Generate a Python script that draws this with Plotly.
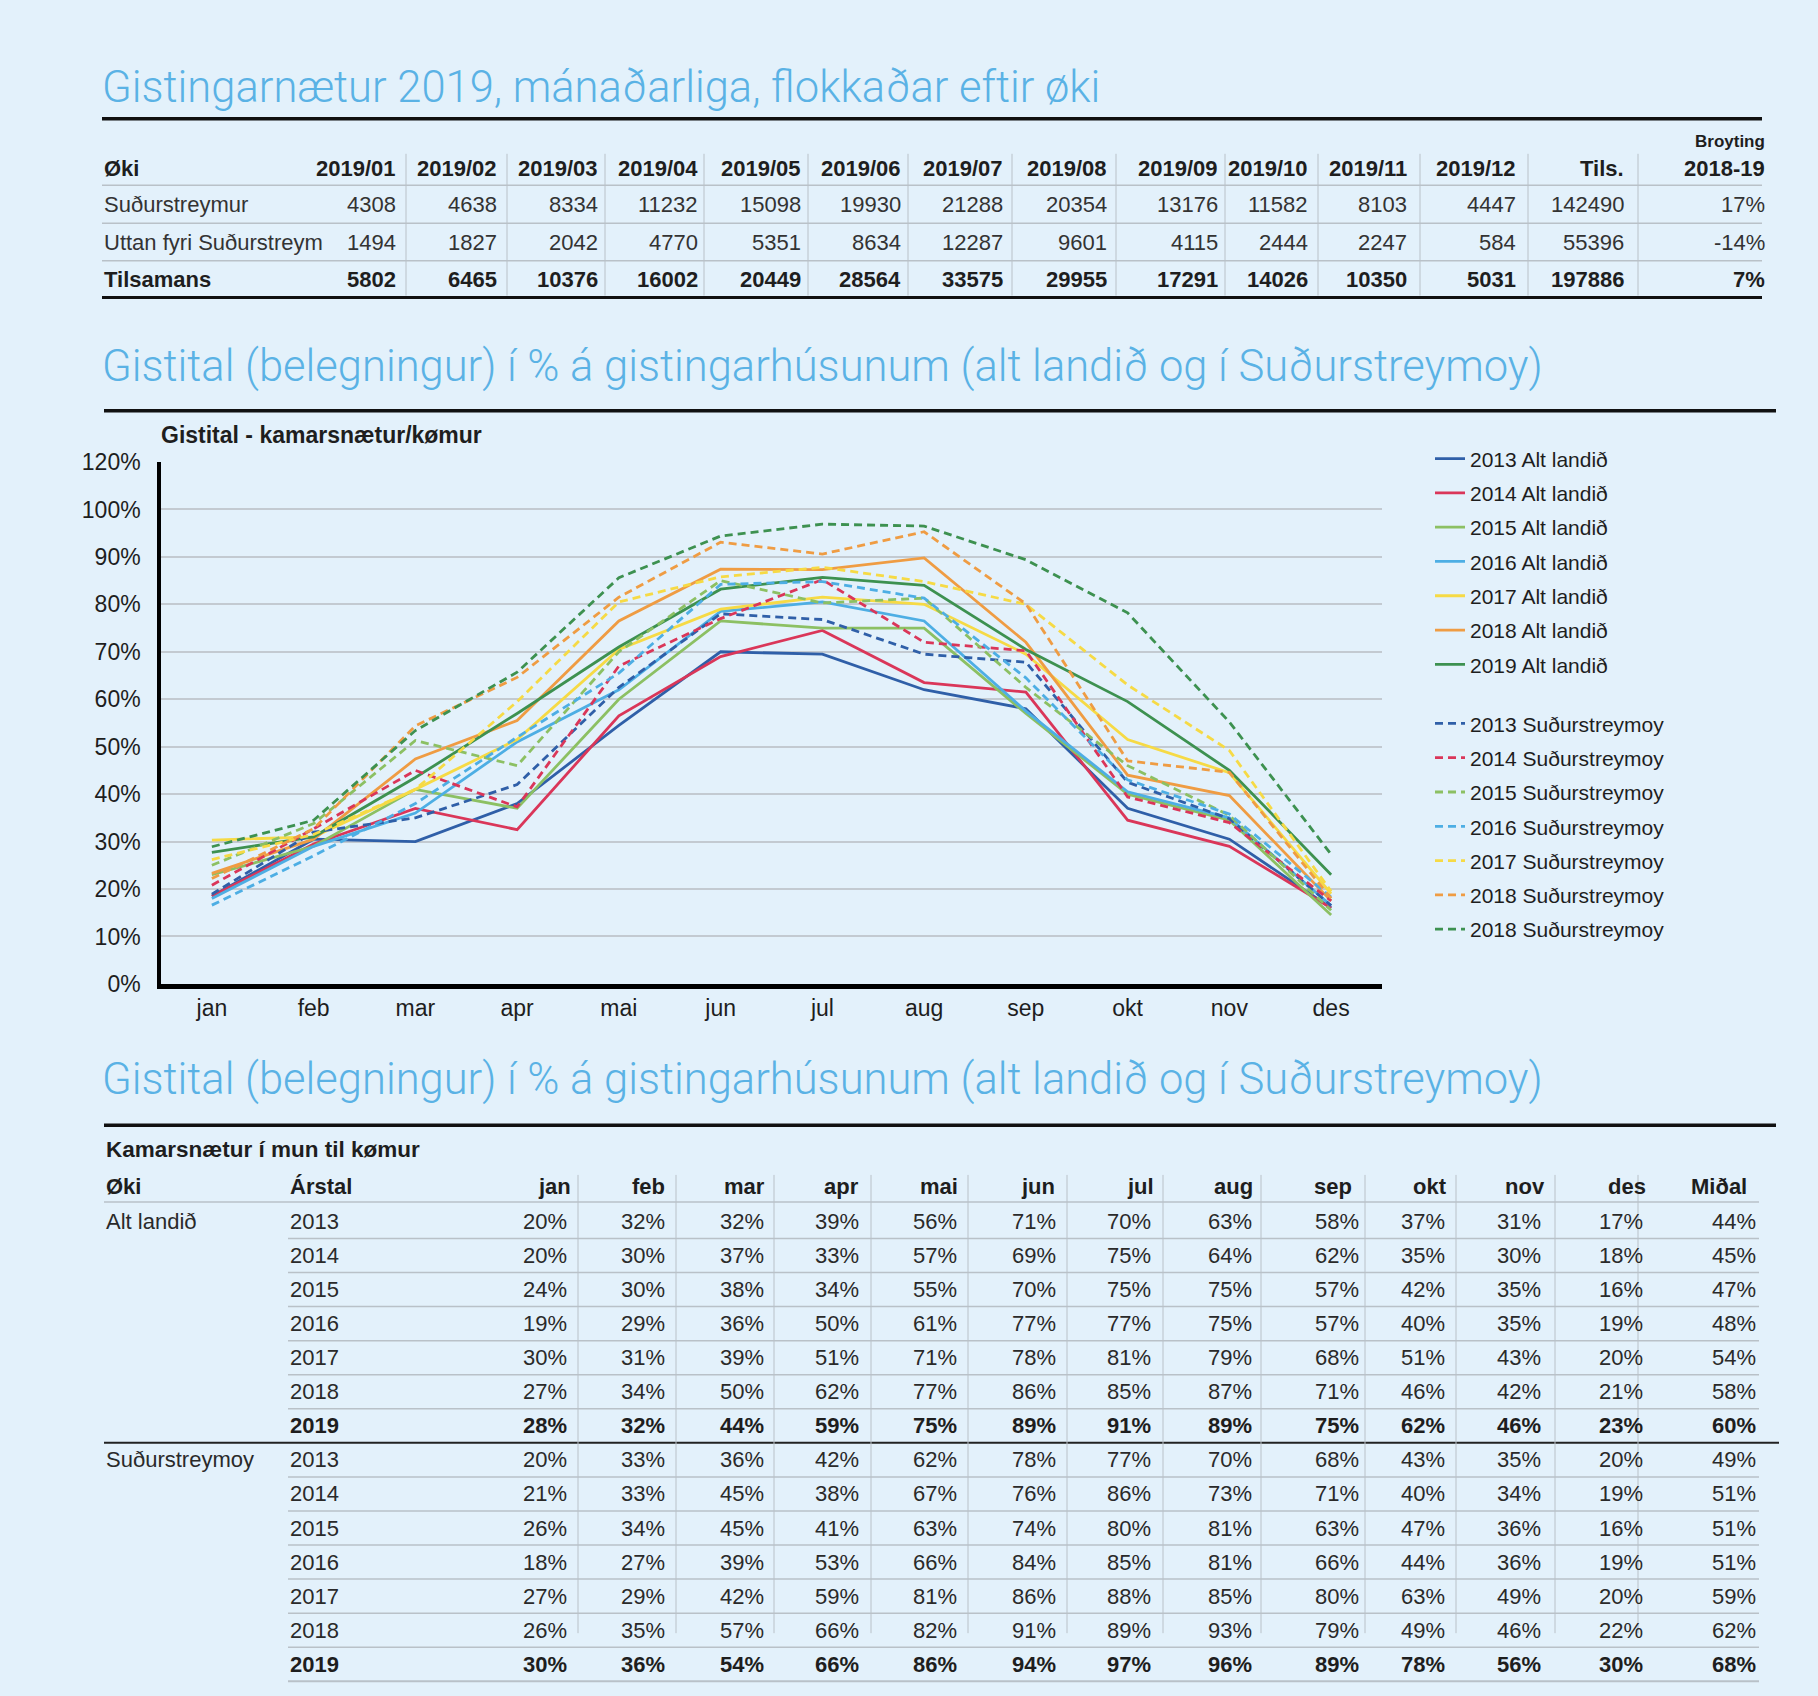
import plotly.graph_objects as go

W, H = 1818, 1696
BG = "#E3F1FB"
TITLE_C = "#5AB2E5"
FONT = "Liberation Sans, Arial, sans-serif"
TFONT = "Roboto, Liberation Sans, sans-serif"
TXT = "#1E1E1E"
GRID = "#C3CAD1"
SEP = "#B9C1C8"

# ---------------- chart data ----------------
months = ["jan", "feb", "mar", "apr", "mai", "jun", "jul", "aug", "sep", "okt", "nov", "des"]
y_tick_vals = [0, 10, 20, 30, 40, 50, 60, 70, 80, 90, 100, 110]
y_tick_labels = ["0%", "10%", "20%", "30%", "40%", "50%", "60%", "70%", "80%", "90%", "100%", "120%"]

alt_names = ["2013 Alt landið", "2014 Alt landið", "2015 Alt landið", "2016 Alt landið",
             "2017 Alt landið", "2018 Alt landið", "2019 Alt landið"]
alt_2013 = [18.5, 30.5, 30, 38, 54.5, 70, 69.5, 62, 58, 37, 30.5, 16]
alt_2014 = [18.5, 29.5, 37, 32.5, 56.5, 69, 74.5, 63.5, 61.5, 34.5, 29, 16]
alt_2015 = [23, 29, 41, 37, 60, 76.5, 75, 75, 57, 40, 34.5, 14.5]
alt_2016 = [18, 29, 36, 51, 62, 78.5, 80.5, 76.5, 57.5, 40.5, 35, 16.5]
alt_2017 = [30.3, 31, 41, 51.5, 70.5, 79, 81.5, 80, 69.5, 51.5, 44.5, 19]
alt_2018 = [23.3, 30.5, 47.4, 55.5, 76.5, 87.4, 87.3, 89.8, 72, 44, 39.7, 17.5]
alt_2019 = [27.7, 31, 43.5, 57, 71, 83.2, 85.7, 84, 70.5, 59.5, 45, 23]

sud_names = ["2013 Suðurstreymoy", "2014 Suðurstreymoy", "2015 Suðurstreymoy", "2016 Suðurstreymoy",
             "2017 Suðurstreymoy", "2018 Suðurstreymoy", "2018 Suðurstreymoy"]
sud_2013 = [18.9, 32, 35, 42, 62.5, 78, 76.8, 69.5, 67.8, 42.5, 34.8, 16.5]
sud_2014 = [20.8, 32.7, 45, 37.3, 67, 77, 85.2, 72, 70.2, 39.4, 34, 17.5]
sud_2015 = [25, 33.8, 51.3, 46, 70, 85, 80.3, 81.3, 62.5, 46, 35.5, 15.5]
sud_2016 = [16.6, 27, 38, 52, 65.5, 84.2, 84.8, 81.3, 64.5, 43, 35.8, 18.3]
sud_2017 = [26.2, 31.5, 41, 59.5, 80.5, 85.8, 87.8, 84.8, 80, 63, 49.2, 19.5]
sud_2018 = [22.2, 32.7, 54.4, 64.6, 81.5, 93.1, 90.6, 95.3, 80.1, 47, 44.6, 18]
sud_2019 = [28.9, 34.5, 53.4, 65.7, 85.6, 94.4, 96.9, 96.5, 89.4, 78.2, 55.2, 27.3]

series_colors = ["#2F5FA8", "#DA3659", "#8CC063", "#4DAEE4", "#F6DA45", "#EF9C43", "#3D9150"]

# ---------------- top table data ----------------
top_cols = ["2019/01", "2019/02", "2019/03", "2019/04", "2019/05", "2019/06", "2019/07",
            "2019/08", "2019/09", "2019/10", "2019/11", "2019/12", "Tils.", "2018-19"]
top_rows = ["Suðurstreymur", "Uttan fyri Suðurstreym", "Tilsamans"]
top_sud = [4308, 4638, 8334, 11232, 15098, 19930, 21288, 20354, 13176, 11582, 8103, 4447, 142490]
top_uttan = [1494, 1827, 2042, 4770, 5351, 8634, 12287, 9601, 4115, 2444, 2247, 584, 55396]
top_total = [5802, 6465, 10376, 16002, 20449, 28564, 33575, 29955, 17291, 14026, 10350, 5031, 197886]
top_change = ["17%", "-14%", "7%"]

# ---------------- bottom table data ----------------
bt_cols = ["jan", "feb", "mar", "apr", "mai", "jun", "jul", "aug", "sep", "okt", "nov", "des", "Miðal"]
bt_years = ["2013", "2014", "2015", "2016", "2017", "2018", "2019"]
bt_alt = [
    [20, 32, 32, 39, 56, 71, 70, 63, 58, 37, 31, 17, 44],
    [20, 30, 37, 33, 57, 69, 75, 64, 62, 35, 30, 18, 45],
    [24, 30, 38, 34, 55, 70, 75, 75, 57, 42, 35, 16, 47],
    [19, 29, 36, 50, 61, 77, 77, 75, 57, 40, 35, 19, 48],
    [30, 31, 39, 51, 71, 78, 81, 79, 68, 51, 43, 20, 54],
    [27, 34, 50, 62, 77, 86, 85, 87, 71, 46, 42, 21, 58],
    [28, 32, 44, 59, 75, 89, 91, 89, 75, 62, 46, 23, 60],
]
bt_sud = [
    [20, 33, 36, 42, 62, 78, 77, 70, 68, 43, 35, 20, 49],
    [21, 33, 45, 38, 67, 76, 86, 73, 71, 40, 34, 19, 51],
    [26, 34, 45, 41, 63, 74, 80, 81, 63, 47, 36, 16, 51],
    [18, 27, 39, 53, 66, 84, 85, 81, 66, 44, 36, 19, 51],
    [27, 29, 42, 59, 81, 86, 88, 85, 80, 63, 49, 20, 59],
    [26, 35, 57, 66, 82, 91, 89, 93, 79, 49, 46, 22, 62],
    [30, 36, 54, 66, 86, 94, 97, 96, 89, 78, 56, 30, 68],
]

# ---------------- figure ----------------
fig = go.Figure()
alt_series = [alt_2013, alt_2014, alt_2015, alt_2016, alt_2017, alt_2018, alt_2019]
sud_series = [sud_2013, sud_2014, sud_2015, sud_2016, sud_2017, sud_2018, sud_2019]
for i, (nm, vals) in enumerate(zip(alt_names, alt_series)):
    fig.add_trace(go.Scatter(x=months, y=vals, mode="lines", name=nm,
                             line=dict(color=series_colors[i], width=2.8),
                             legend="legend", legendgroup="a%d" % i))
for i, (nm, vals) in enumerate(zip(sud_names, sud_series)):
    fig.add_trace(go.Scatter(x=months, y=vals, mode="lines", name=nm,
                             line=dict(color=series_colors[i], width=2.8, dash="8px,5px"),
                             legend="legend2", legendgroup="s%d" % i))


def px(x):
    return x / W


def py(y):
    return 1 - y / H


ann = []
shapes = []


def text(x, y, s, size=22, bold=False, anchor="left", color=TXT, family=FONT, weight=None):
    f = dict(family=family, size=size, color=color)
    if weight is not None:
        f["weight"] = weight
    elif bold:
        f["weight"] = "bold"
    ann.append(dict(x=px(x), y=py(y), xref="paper", yref="paper", text=s, showarrow=False,
                    xanchor=anchor, yanchor="middle", font=f))


def hline(x0, x1, y, color=SEP, width=1.5):
    shapes.append(dict(type="line", xref="paper", yref="paper", x0=px(x0), x1=px(x1),
                       y0=py(y), y1=py(y), line=dict(color=color, width=width)))


def vline(x, y0, y1, color=SEP, width=1):
    shapes.append(dict(type="line", xref="paper", yref="paper", x0=px(x), x1=px(x),
                       y0=py(y0), y1=py(y1), line=dict(color=color, width=width)))


# ---- titles & rules ----
TSIZE = 43.5
text(100, 76, "Gistingarnætur 2019, mánaðarliga, flokkaðar eftir øki", size=TSIZE, color=TITLE_C,
     family=TFONT, weight=300)
hline(102, 1762, 107.5, color="#111111", width=3.5)
text(100, 359, "Gistital (belegningur) í % á gistingarhúsunum (alt landið og í Suðurstreymoy)", size=TSIZE,
     color=TITLE_C, family=TFONT, weight=300)
hline(104, 1776, 404, color="#111111", width=3.5)
text(100, 1083, "Gistital (belegningur) í % á gistingarhúsunum (alt landið og í Suðurstreymoy)", size=TSIZE,
     color=TITLE_C, family=TFONT, weight=300)
hline(104, 1776, 1129.5, color="#111111", width=3.5)

# ---- top table ----
top_right = [398, 499, 600, 700, 803, 903, 1005, 1109, 1220, 1310, 1409, 1518, 1626, 1767]
top_vsep = [406, 507, 605, 704, 808, 908, 1012, 1116, 1225, 1318, 1420, 1528, 1638]
top_hdr_y = 158
top_row_y = [194.5, 233.4, 271]
text(102, top_hdr_y, "Øki", bold=True)
for c, xr in zip(top_cols, top_right):
    text(xr, top_hdr_y, c, bold=True, anchor="right")
text(top_right[-1], 131, "Broyting", size=17, bold=True, anchor="right")
top_data = [top_sud, top_uttan, top_total]
for r, (lab, vals, chg, yy) in enumerate(zip(top_rows, top_data, top_change, top_row_y)):
    bold = (r == 2)
    col = TXT if bold else "#333333"
    text(102, yy, lab, bold=bold, color=col)
    for v, xr in zip(vals, top_right[:-1]):
        text(xr, yy, str(v), bold=bold, anchor="right", color=col)
    text(top_right[-1], yy, chg, bold=bold, anchor="right", color=col)
for yy in [175, 213.5, 251.5]:
    hline(102, 1762, yy)
hline(102, 1762, 289, color="#111111", width=3)
for xv in top_vsep:
    vline(xv, 143, 287)

# ---- chart subtitle ----
text(159, 429, "Gistital - kamarsnætur/kømur", size=23, bold=True)

# ---- bottom table ----
text(104, 1154, "Kamarsnætur í mun til kømur", size=22.5, bold=True)
bt_hdr_right = [573, 667, 767, 861, 960, 1057, 1156, 1255, 1354, 1449, 1547, 1648, 1749]
bt_val_right = [569, 667, 766, 861, 959, 1058, 1153, 1254, 1361, 1447, 1543, 1645, 1758]
bt_vsep = [578, 676, 774, 871, 968, 1067, 1163, 1261, 1365, 1456, 1555, 1638]
hdr_y = 1192
text(104, hdr_y, "Øki", bold=True)
text(288, hdr_y, "Árstal", bold=True)
for c, xr in zip(bt_cols, bt_hdr_right):
    text(xr, hdr_y, c, bold=True, anchor="right")
row_y0, row_dy = 1227.2, 34.6
groups = [("Alt landið", bt_alt), ("Suðurstreymoy", bt_sud)]
k = 0
for g, (gname, rows) in enumerate(groups):
    for j, (yr, vals) in enumerate(zip(bt_years, rows)):
        yy = row_y0 + k * row_dy
        bold = (yr == "2019")
        col = TXT if bold else "#2A2A2A"
        if j == 0:
            text(104, yy, gname, color="#2A2A2A")
        text(288, yy, yr, bold=bold, color=col)
        for v, xr in zip(vals, bt_val_right):
            text(xr, yy, "%d%%" % v, bold=bold, anchor="right", color=col)
        k += 1
hline(104, 1759, 1207.5)
for k in range(14):
    ys = row_y0 + k * row_dy + 17.3
    if k == 6:
        hline(104, 1779, ys, color="#222222", width=2)
    else:
        hline(288, 1759, ys, color=SEP, width=2 if k == 13 else 1.5)
for xv in bt_vsep:
    vline(xv, 1180, row_y0 + 12 * row_dy + 3)

# ---------------- layout ----------------
x0p, x1p = 161, 1382
ytop, ybot = 456, 986
fig.update_layout(
    width=W, height=H, margin=dict(l=0, r=0, t=0, b=0),
    paper_bgcolor=BG, plot_bgcolor=BG,
    font=dict(family=FONT, size=23, color=TXT),
    xaxis=dict(domain=[px(x0p), px(x1p)], type="category", range=[-0.5, 11.5],
               showgrid=False, showline=True, linecolor="#000000", linewidth=5,
               ticks="", tickfont=dict(size=23, color=TXT), zeroline=False, fixedrange=True),
    yaxis=dict(domain=[py(ybot), py(ytop)], range=[0, 110], tickvals=y_tick_vals, ticktext=y_tick_labels,
               showgrid=True, gridcolor=GRID, gridwidth=1.5, showline=True, linecolor="#000000",
               linewidth=3.5, ticks="outside", ticklen=12, tickcolor="rgba(0,0,0,0)",
               tickfont=dict(size=23, color=TXT), zeroline=False, fixedrange=True),
    legend=dict(x=px(1430), xanchor="left", y=py(432), yanchor="top", bgcolor="rgba(0,0,0,0)",
                font=dict(size=21, color=TXT), tracegroupgap=4, traceorder="grouped"),
    legend2=dict(x=px(1430), xanchor="left", y=py(701), yanchor="top", bgcolor="rgba(0,0,0,0)",
                 font=dict(size=21, color=TXT), tracegroupgap=4, traceorder="grouped"),
    annotations=ann, shapes=shapes, showlegend=True,
)

fig.write_html("out.html", config={"displayModeBar": False},
               post_script="document.body.style.margin='0';document.body.style.overflow='hidden';"
                           "document.body.style.background='%s';" % BG)
